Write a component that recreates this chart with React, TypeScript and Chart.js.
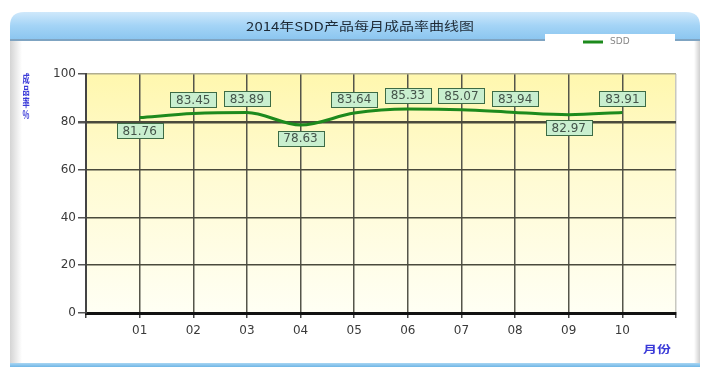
import React, { useEffect, useRef } from 'react';
import { Chart, registerables } from 'chart.js';

Chart.register(...registerables);

const TITLE = '2014年SDD产品每月成品率曲线图';
const SERIES_NAME = 'SDD';
const MONTHS = ['01', '02', '03', '04', '05', '06', '07', '08', '09', '10'];
const YIELD_VALUES = [81.76, 83.45, 83.89, 78.63, 83.64, 85.33, 85.07, 83.94, 82.97, 83.91];
const Y_MIN = 0;
const Y_MAX = 100;
const Y_STEP = 20;
const Y_TITLE = '成品率%';
const X_TITLE = '月份';

const FONT = '"DejaVu Sans", sans-serif';
const CJK = '"Noto Sans CJK SC", sans-serif';
const LINE_COLOR = '#1d8a1d';

function stretchedText(ctx: any, text: string, x: number, y: number, sx: number) {
  ctx.save();
  ctx.translate(x, y);
  ctx.scale(sx, 1);
  ctx.fillText(text, 0, 0);
  ctx.restore();
}

const panelPlugin = {
  id: 'panel',
  beforeDraw(chart: any) {
    const { ctx, width, height, chartArea } = chart;
    ctx.save();
    ctx.fillStyle = '#ffffff';
    ctx.fillRect(0, 0, width, height);

    const L = 10, R = 700, T = 12, B = 367, HB = 39, rad = 14;
    const ls = ctx.createLinearGradient(L, 0, L + 12, 0);
    ls.addColorStop(0, '#d4d4d4');
    ls.addColorStop(1, '#ffffff');
    ctx.fillStyle = ls;
    ctx.fillRect(L, HB, 12, B - HB);
    const rs = ctx.createLinearGradient(R - 6, 0, R, 0);
    rs.addColorStop(0, '#ffffff');
    rs.addColorStop(1, '#cfcfcf');
    ctx.fillStyle = rs;
    ctx.fillRect(R - 6, HB, 6, B - HB);
    const hg = ctx.createLinearGradient(0, T, 0, HB);
    hg.addColorStop(0, '#cfe8fb');
    hg.addColorStop(0.5, '#a4d4f6');
    hg.addColorStop(1, '#8cc6f0');
    ctx.fillStyle = hg;
    ctx.beginPath();
    ctx.moveTo(L, HB);
    ctx.lineTo(L, T + rad);
    ctx.quadraticCurveTo(L, T, L + rad, T);
    ctx.lineTo(R - rad, T);
    ctx.quadraticCurveTo(R, T, R, T + rad);
    ctx.lineTo(R, HB);
    ctx.closePath();
    ctx.fill();
    ctx.fillStyle = '#7fa4c2';
    ctx.fillRect(L, HB, R - L, 2);
    const bg = ctx.createLinearGradient(0, B - 4, 0, B);
    bg.addColorStop(0, '#a9d6f3');
    bg.addColorStop(1, '#6fb6e6');
    ctx.fillStyle = bg;
    ctx.fillRect(L, B - 4, R - L, 4);

    // title
    ctx.fillStyle = '#1e2a36';
    ctx.font = `12px ${CJK}`;
    ctx.textAlign = 'center';
    ctx.textBaseline = 'middle';
    stretchedText(ctx, TITLE, 360, 26, 1.25);

    // legend box
    ctx.fillStyle = '#ffffff';
    ctx.fillRect(545, 34, 130, 16);
    ctx.strokeStyle = LINE_COLOR;
    ctx.lineWidth = 3;
    ctx.beginPath();
    ctx.moveTo(583, 42);
    ctx.lineTo(603, 42);
    ctx.stroke();
    ctx.fillStyle = '#888';
    ctx.font = `9px ${FONT}`;
    ctx.textAlign = 'left';
    ctx.fillText(SERIES_NAME, 610, 42);

    // plot background
    const pg = ctx.createLinearGradient(0, chartArea.top, 0, chartArea.bottom);
    pg.addColorStop(0, '#fff7ae');
    pg.addColorStop(0.45, '#fffbd4');
    pg.addColorStop(1, '#fffff4');
    ctx.fillStyle = pg;
    ctx.fillRect(chartArea.left, chartArea.top, chartArea.right - chartArea.left, chartArea.bottom - chartArea.top);
    ctx.restore();
  },
  afterDraw(chart: any) {
    const { ctx } = chart;
    ctx.save();
    ctx.fillStyle = '#3a3ad8';
    ctx.font = `bold 11px ${CJK}`;
    ctx.textAlign = 'center';
    ctx.textBaseline = 'middle';
    Array.from(Y_TITLE).forEach((c, i) => stretchedText(ctx, c, 26, 79 + i * 12, 0.65));
    ctx.font = `bold 10px ${CJK}`;
    stretchedText(ctx, X_TITLE, 657, 349, 1.4);
    ctx.restore();
  },
};

const labelPlugin = {
  id: 'valueLabels',
  afterDatasetsDraw(chart: any) {
    const { ctx } = chart;
    const meta = chart.getDatasetMeta(0);
    const vals = chart.data.datasets[0].data.map((d: any) => d.y);
    ctx.save();
    ctx.font = `12px ${FONT}`;
    ctx.textAlign = 'center';
    ctx.textBaseline = 'middle';
    meta.data.forEach((pt: any, i: number) => {
      const v = vals[i];
      const prev = i > 0 ? vals[i - 1] : Infinity;
      const next = i < vals.length - 1 ? vals[i + 1] : Infinity;
      const below = v < prev && v < next;
      const cy = below ? pt.y + 13 : pt.y - 14;
      const w = 46, h = 15;
      const x0 = Math.round(pt.x - w / 2) + 0.5;
      const y0 = Math.round(cy - h / 2) + 0.5;
      ctx.fillStyle = '#c9efcf';
      ctx.fillRect(x0, y0, w, h);
      ctx.strokeStyle = '#3d6b45';
      ctx.lineWidth = 1;
      ctx.strokeRect(x0, y0, w, h);
      ctx.fillStyle = '#44544a';
      ctx.fillText(v.toFixed(2), pt.x, cy + 1);
    });
    ctx.restore();
  },
};

export default function App() {
  const ref = useRef<HTMLCanvasElement>(null);
  useEffect(() => {
    if (!ref.current) return;
    const chart = new Chart(ref.current, {
      type: 'line',
      data: {
        datasets: [
          {
            label: SERIES_NAME,
            data: YIELD_VALUES.map((y, i) => ({ x: i + 1, y })),
            borderColor: LINE_COLOR,
            borderWidth: 3,
            pointRadius: 0,
            cubicInterpolationMode: 'monotone',
            fill: false,
          },
        ],
      },
      options: {
        responsive: false,
        animation: false,
        layout: { padding: { top: 74, right: 30, left: 0, bottom: 0 } },
        plugins: { legend: { display: false }, title: { display: false }, tooltip: { enabled: false } },
        scales: {
          x: {
            type: 'linear',
            min: 0,
            max: MONTHS.length + 1,
            afterFit: (s: any) => { s.height = 57; },
            afterBuildTicks: (s: any) => {
              s.ticks = Array.from({ length: MONTHS.length + 2 }, (_, i) => ({ value: i }));
            },
            ticks: {
              autoSkip: false,
              maxRotation: 0,
              color: '#3a3a3a',
              font: { size: 12, family: FONT },
              padding: 6,
              callback: (v: any) => (v >= 1 && v <= MONTHS.length ? MONTHS[v - 1] : ''),
            },
            grid: {
              color: (c: any) => (c.tick && c.tick.value === 0 ? 'rgba(0,0,0,0)' : c.tick && c.tick.value === MONTHS.length + 1 ? '#c8c8c0' : '#55554a'),
              lineWidth: 1.5,
              tickColor: '#444',
              tickLength: 5,
            },
            border: { color: '#111', width: 3 },
          },
          y: {
            min: Y_MIN,
            max: Y_MAX,
            afterFit: (s: any) => { s.width = 86; },
            ticks: {
              stepSize: Y_STEP,
              color: '#3a3a3a',
              font: { size: 12, family: FONT },
              padding: 2,
            },
            grid: {
              color: (c: any) => (c.tick && c.tick.value === Y_MIN ? 'rgba(0,0,0,0)' : c.tick && c.tick.value === Y_MAX ? '#b0ad90' : '#4a4a3c'),
              lineWidth: (c: any) => (c.tick && c.tick.value === 80 ? 2.5 : 1.5),
              tickColor: '#555',
              tickLength: 8,
            },
            border: { color: '#444', width: 2 },
          },
        },
      },
      plugins: [panelPlugin, labelPlugin],
    });
    return () => chart.destroy();
  }, []);
  return (
    <div style={{ position: 'fixed', left: 0, top: 0, width: 706, height: 370 }}>
      <canvas ref={ref} width={706} height={370} style={{ display: 'block' }} />
    </div>
  );
}
